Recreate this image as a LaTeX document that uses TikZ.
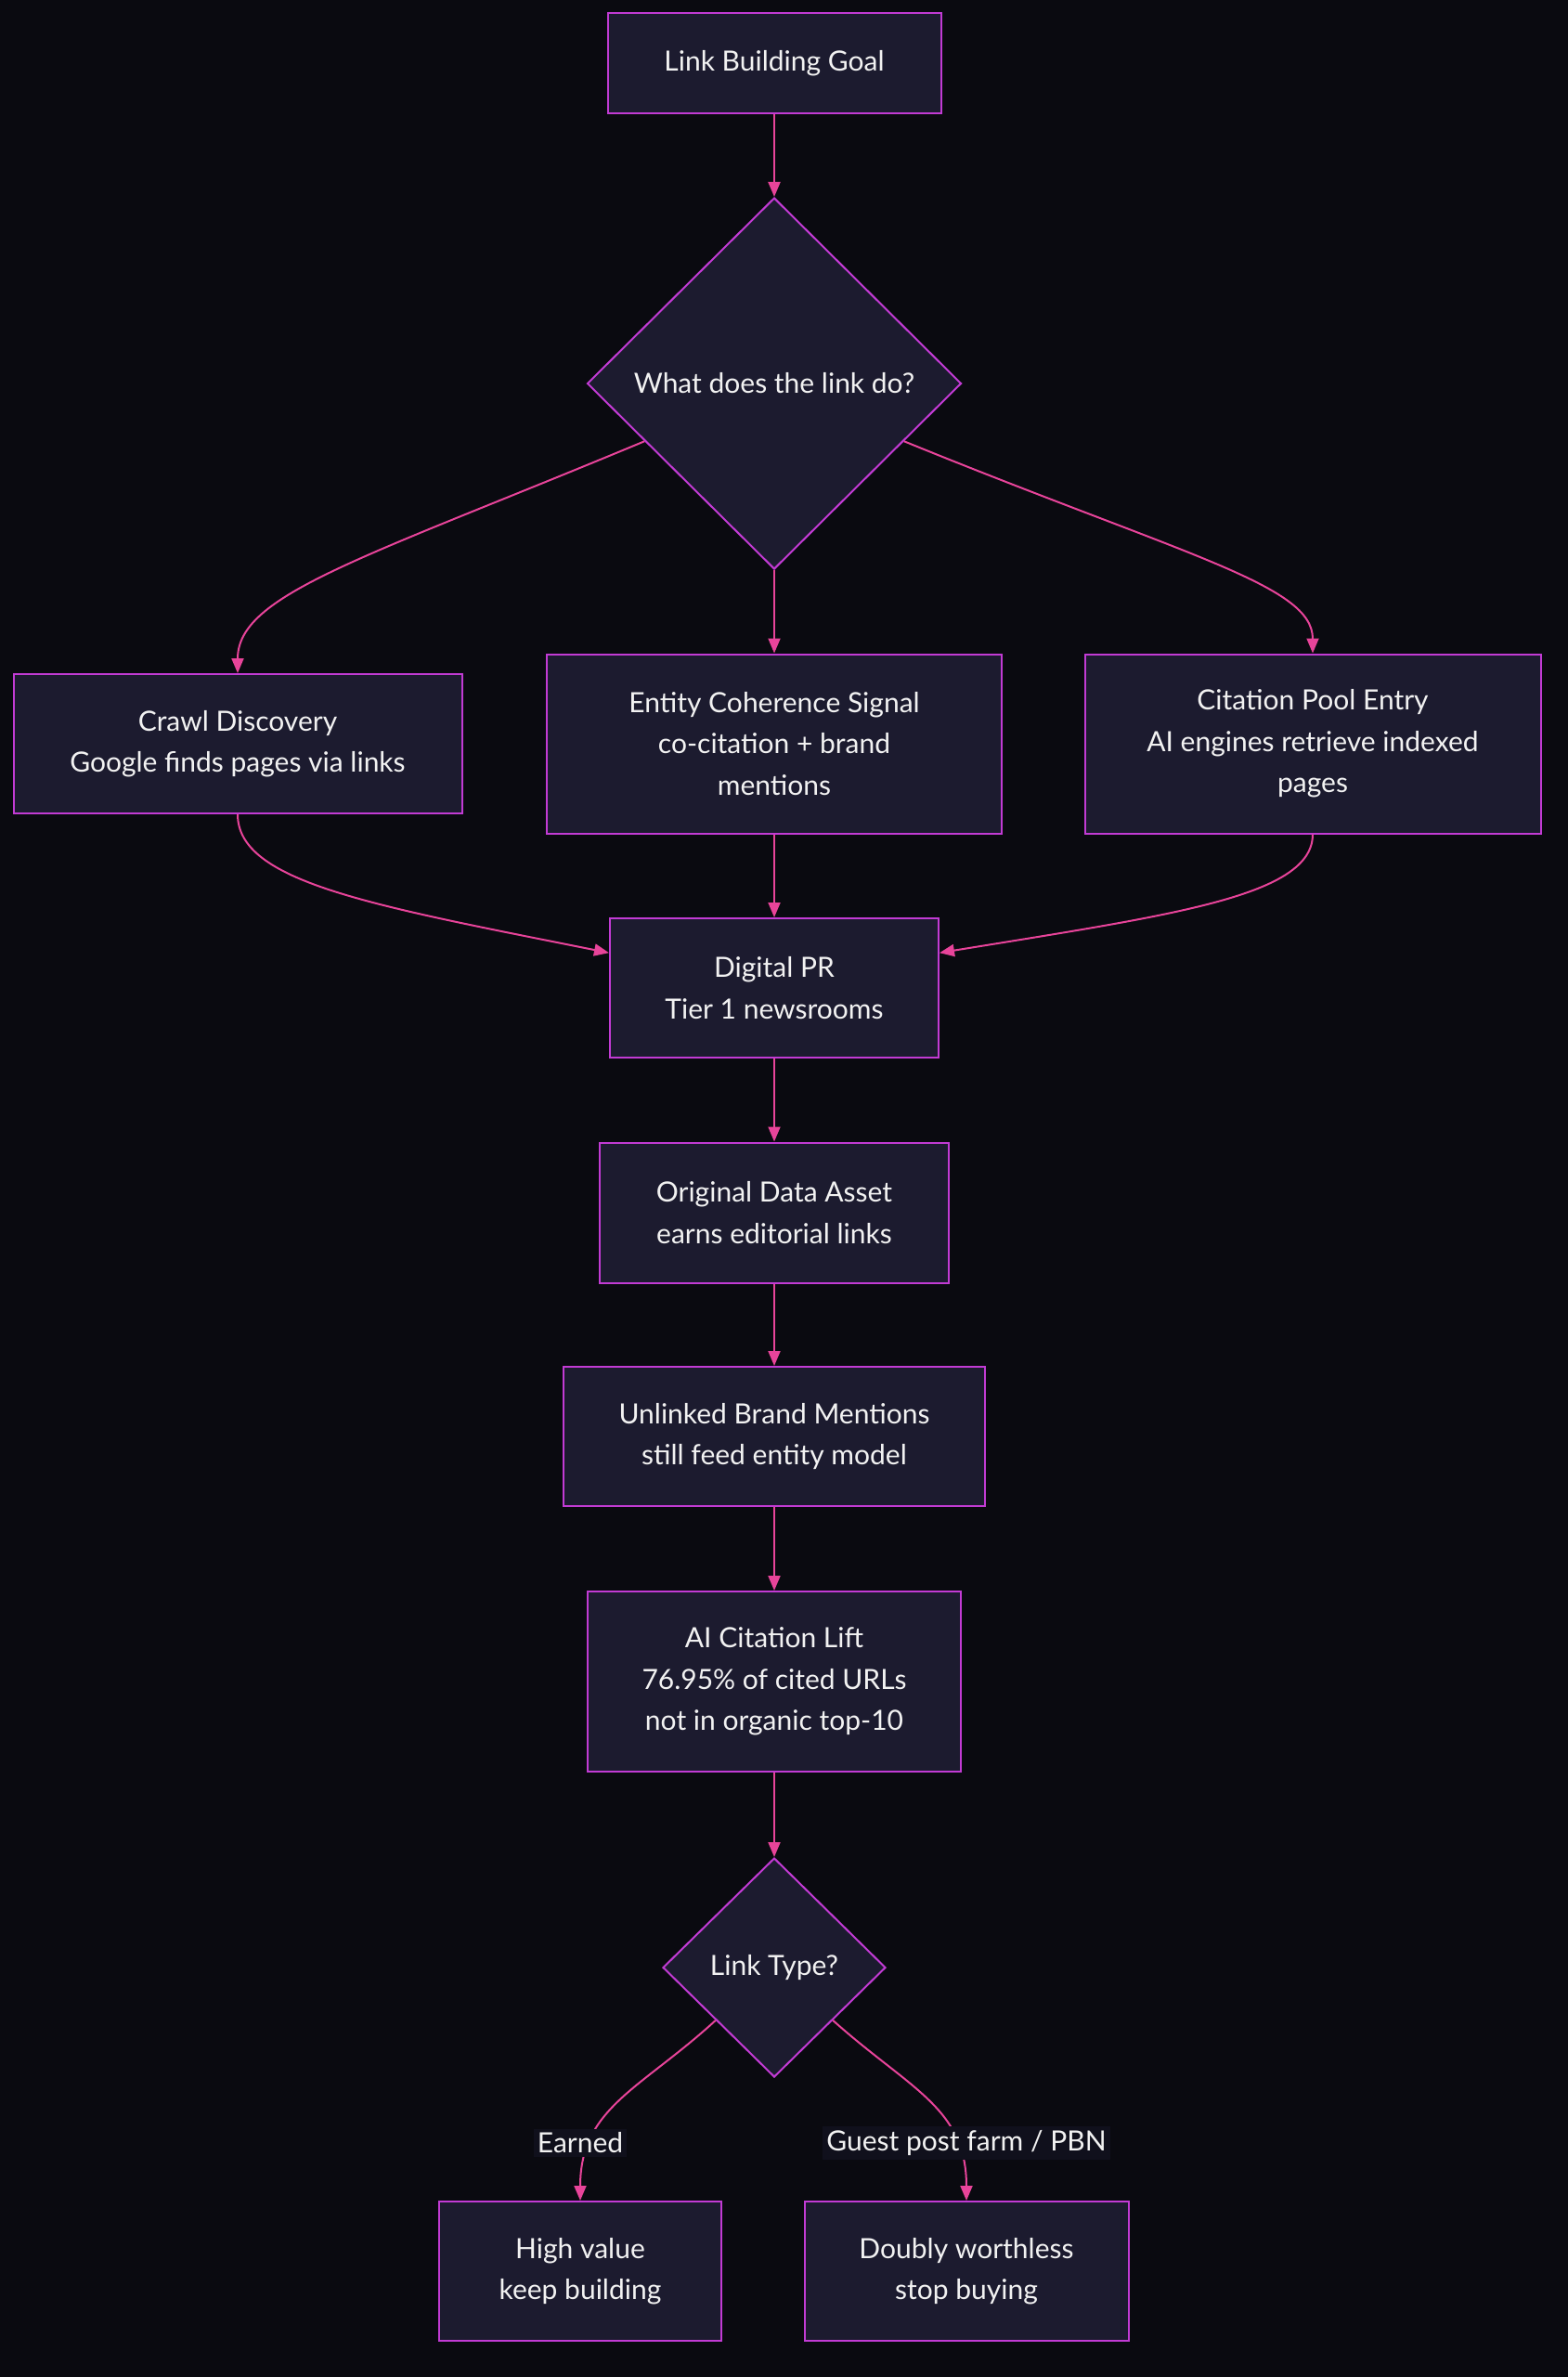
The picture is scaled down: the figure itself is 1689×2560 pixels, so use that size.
\documentclass[tikz,border=0pt]{standalone}
\usepackage{fontspec}
\setmainfont{Lato}
\usetikzlibrary{shapes.geometric,arrows.meta}
\definecolor{pagebg}{HTML}{0A0A10}
\definecolor{boxfill}{HTML}{1C1B2F}
\definecolor{boxline}{HTML}{C23BD4}
\definecolor{flowpink}{HTML}{E8449A}
\definecolor{labelbg}{HTML}{10101C}
\definecolor{inktext}{HTML}{F2F2F2}
\begin{document}
\begin{tikzpicture}[x=0.5pt,y=-0.5pt,
  box/.style={draw=boxline,fill=boxfill,line width=1pt,text=inktext,align=center,
    inner sep=0pt,font=\fontsize{15}{22.3}\selectfont},
  choice/.style={box,diamond},
  flow/.style={draw=flowpink,line width=1pt,-{Triangle[length=8pt,width=6.5pt]}},
  elabel/.style={fill=labelbg,text=inktext,inner sep=2pt,font=\fontsize{15}{18}\selectfont}]
\fill[pagebg] (0,0) rectangle (1689,2560);

\node[box,minimum width=179.5pt,minimum height=54pt] (goal) at (834,68) {Link Building Goal};
\node[choice,minimum width=201.5pt,minimum height=200pt] (q1) at (834,413) {What does the link do?};
\node[box,minimum width=241.5pt,minimum height=75pt] (crawl) at (256,801) {Crawl Discovery\\Google finds pages via links};
\node[box,minimum width=245pt,minimum height=96.5pt] (entity) at (834,801) {Entity Coherence Signal\\co-citation + brand\\mentions};
\node[box,minimum width=245.5pt,minimum height=96.5pt] (cite) at (1414,801) {Citation Pool Entry\\AI engines retrieve indexed\\pages};
\node[box,minimum width=177pt,minimum height=75pt] (pr) at (834,1064) {Digital PR\\Tier 1 newsrooms};
\node[box,minimum width=188pt,minimum height=75.5pt] (data) at (834,1306) {Original Data Asset\\earns editorial links};
\node[box,minimum width=227pt,minimum height=75pt] (unlinked) at (834,1547) {Unlinked Brand Mentions\\still feed entity model};
\node[box,minimum width=201pt,minimum height=97pt] (ai) at (834,1811) {AI Citation Lift\\76.95\% of cited URLs\\not in organic top-10};
\node[choice,minimum width=120pt,minimum height=118pt] (q2) at (834,2119) {Link Type?};
\node[box,minimum width=152pt,minimum height=75pt] (high) at (625,2446) {High value\\keep building};
\node[box,minimum width=174.5pt,minimum height=75pt] (doubly) at (1041,2446) {Doubly worthless\\stop buying};

\draw[flow] (goal) -- (q1);
\draw[flow] (q1.204) .. controls (390,602) and (256,640) .. (crawl.north);
\draw[flow] (q1) -- (entity);
\draw[flow] (q1.336) .. controls (1280,600) and (1414,630) .. (cite.north);
\draw[flow] (crawl.south) .. controls (256,950) and (400,975) .. (pr.168);
\draw[flow] (entity) -- (pr);
\draw[flow] (cite.south) .. controls (1414,965) and (1265,985) .. (pr.12);
\draw[flow] (pr) -- (data);
\draw[flow] (data) -- (unlinked);
\draw[flow] (unlinked) -- (ai);
\draw[flow] (ai) -- (q2);
\draw[flow] (q2.222) .. controls (690,2250) and (625,2270) .. (high.north);
\draw[flow] (q2.318) .. controls (980,2250) and (1041,2270) .. (doubly.north);

\node[elabel] (earned) at (625,2308) {Earned};
\node[elabel] (guest) at (1041,2308) {Guest post farm / PBN};
\end{tikzpicture}
\end{document}
